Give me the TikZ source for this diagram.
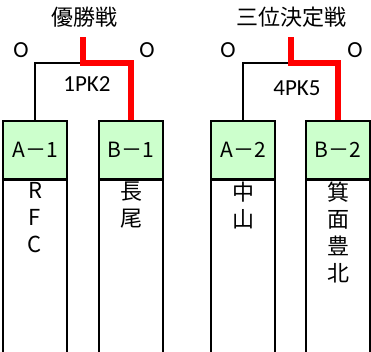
\documentclass[tikz,border=0pt]{standalone}
\usepackage{fontspec}
\setmainfont{Noto Sans CJK JP}
\newfontfamily\calfont{Carlito}
\definecolor{seedgreen}{HTML}{CCFFCC}
\tikzset{
	seedbox/.style={draw, line width=1.5pt, fill=seedgreen, minimum width=64pt, minimum height=58pt, inner sep=0pt, font=\fontsize{21}{24}\selectfont},
	namecol/.style={draw, line width=1.5pt, minimum width=64pt, minimum height=176pt, inner sep=0pt, anchor=north},
	nametext/.style={anchor=north, align=center, inner sep=0pt, font=\fontsize{22}{27}\selectfont},
	bracket/.style={line width=1.2pt},
	winner/.style={red, line width=6pt, line join=miter},
	score/.style={inner sep=0pt, font=\calfont\fontsize{23}{23}\selectfont},
	roundtitle/.style={inner sep=0pt, font=\fontsize{22}{22}\selectfont}
}

\begin{document}
\begin{tikzpicture}[x=1pt, y=-1pt]
			%%%%% START %%%%%
			\useasboundingbox (0, 0) rectangle (371, 351);
			
			\node[roundtitle] (final) at (84, 17) {優勝戦};
			\node[roundtitle] (third) at (291.5, 17) {三位決定戦};
			
			\node[namecol] (colA1) at (35, 179) {};
			\node[namecol] (colB1) at (131, 179) {};
			\node[namecol] (colA2) at (243, 179) {};
			\node[namecol] (colB2) at (338, 179) {};
			
			\node[seedbox] (A1) at (35, 150) {A－1};
			\node[seedbox] (B1) at (131, 150) {B－1};
			\node[seedbox] (A2) at (243, 150) {A－2};
			\node[seedbox] (B2) at (338, 150) {B－2};
			
			\node[nametext] (nameA1) at ([yshift=-3pt]colA1.north) {R\\F\\C};
			\node[nametext] (nameB1) at ([yshift=-3pt]colB1.north) {長\\尾};
			\node[nametext] (nameA2) at ([yshift=-3pt]colA2.north) {中\\山};
			\node[nametext] (nameB2) at ([yshift=-3pt]colB2.north) {箕\\面\\豊\\北};
			
			% final
			\coordinate (top1) at (83, 37);
			\coordinate (mid1) at (83, 63);
			\draw[bracket] (A1.north) |- (mid1);
			\draw[winner] (top1) -- (mid1) -| (B1.north);
			\node[score] (scA1) at (21, 50) {O};
			\node[score] (scB1) at (147, 50) {O};
			\node[score] (pk1) at (87, 84.5) {1PK2};
			
			% third place
			\coordinate (top2) at (291, 37);
			\coordinate (mid2) at (291, 63);
			\draw[bracket] (A2.north) |- (mid2);
			\draw[winner] (top2) -- (mid2) -| (B2.north);
			\node[score] (scA2) at (228, 50) {O};
			\node[score] (scB2) at (355, 50) {O};
			\node[score] (pk2) at (297, 88) {4PK5};
			
			%%%%% END %%%%%
\end{tikzpicture}
\end{document}
